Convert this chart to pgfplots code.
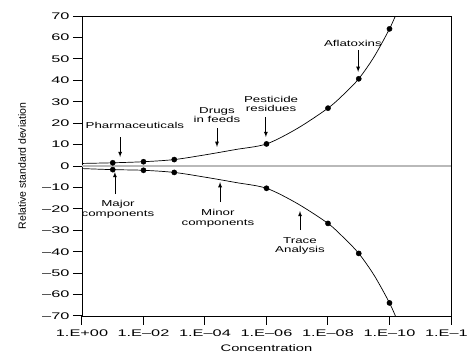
\documentclass[border=0pt]{standalone}
\usepackage{fontspec}
\setmainfont{Liberation Sans}[FakeStretch=1.55]
\newfontfamily\tickfont{Liberation Sans}[FakeStretch=1.7]
\newfontfamily\ylfont{Liberation Sans}
\usepackage{pgfplots}
\pgfplotsset{compat=1.18}
\begin{document}
\begin{tikzpicture}
\useasboundingbox (0,0) rectangle (467pt,354pt);
\begin{axis}[
  at={(82pt,38pt)}, anchor=south west,
  scale only axis, width=369pt, height=300pt,
  xmin=0, xmax=12, ymin=-70, ymax=70,
  xtick={0,2,4,6,8,10,12},
  xticklabels={1.E+00,1.E–02,1.E–04,1.E–06,1.E–08,1.E–10,1.E–12},
  ytick={-70,-60,-50,-40,-30,-20,-10,0,10,20,30,40,50,60,70},
  yticklabels={–70,–60,–50,–40,–30,–20,–10,0,10,20,30,40,50,60,70},
  tick align=outside,
  xtick pos=bottom, ytick pos=left,
  major tick length=9pt,
  xtick style={black, line width=1pt},
  ytick style={black, line width=1pt},
  xticklabel style={font=\tickfont\fontsize{9.6}{10}\selectfont, yshift=-1pt},
  yticklabel style={font=\tickfont\fontsize{9.6}{10}\selectfont},
  axis line style={black, line width=0.9pt},
  xlabel={Concentration},
  ylabel={\ylfont Relative standard deviation},
  every axis x label/.style={at={(axis description cs:0.5,0)}, anchor=center, yshift=-32pt, font=\fontsize{9.5}{10}\selectfont},
  every axis y label/.style={at={(axis description cs:-0.1626,0.5)}, rotate=90, anchor=center, font=\fontsize{10.5}{12}\selectfont},
  clip=true,
]
% zero line
\addplot[gray!55, line width=2.5pt, forget plot] coordinates {(0,0) (12,0)};
% upper curve
\addplot[black, line width=0.7pt, smooth] coordinates {
 (0,1.2) (1,1.5) (2,2.0) (3,3.0) (4,5.2) (5,7.7) (6,10.3) (7,17.5) (8,27) (8.5,33.3) (9,40.7) (9.5,51) (10,64) (10.25,72)};
% lower curve
\addplot[black, line width=0.7pt, smooth] coordinates {
 (0,-1.2) (1,-1.7) (2,-2.0) (3,-3.0) (4,-5.2) (5,-7.7) (6,-10.4) (7,-17.5) (8,-26.8) (8.5,-33.3) (9,-40.8) (9.5,-51) (10,-63.9) (10.25,-72)};
% marks
\addplot[only marks, mark=*, mark size=2.6pt, black] coordinates {
 (1,1.5) (2,2.0) (3,3.0) (6,10.3) (8,27) (9,40.7) (10,64)};
\addplot[only marks, mark=*, mark size=2.6pt, black] coordinates {
 (1,-1.7) (2,-2.0) (3,-3.0) (6,-10.4) (8,-26.8) (9,-40.8) (10,-63.9)};
% annotations
\begin{scope}[font=\fontsize{8.6}{9.5}\selectfont, align=center]
\node at (axis cs:1.72,19.1) {Pharmaceuticals};
\draw[-latex, line width=0.8pt] (axis cs:1.24,13.5) -- (axis cs:1.24,4.2);
\node at (axis cs:1.17,-20.3) {Major\\components};
\draw[-latex, line width=0.8pt] (axis cs:1.07,-13.1) -- (axis cs:1.07,-2.8);
\node at (axis cs:4.39,23.8) {Drugs\\in feeds};
\draw[-latex, line width=0.8pt] (axis cs:4.39,17.7) -- (axis cs:4.39,8.9);
\node at (axis cs:6.15,28.9) {Pesticide\\residues};
\draw[-latex, line width=0.8pt] (axis cs:5.98,22.9) -- (axis cs:5.98,13.5);
\node at (axis cs:8.81,57.4) {Aflatoxins};
\draw[-latex, line width=0.8pt] (axis cs:8.98,54.1) -- (axis cs:8.98,43.9);
\node at (axis cs:4.42,-24.3) {Minor\\components};
\draw[-latex, line width=0.8pt] (axis cs:4.49,-16.8) -- (axis cs:4.49,-7.5);
\node at (axis cs:7.09,-37.3) {Trace\\Analysis};
\draw[-latex, line width=0.8pt] (axis cs:7.09,-29.9) -- (axis cs:7.09,-21);
\end{scope}
\end{axis}
\end{tikzpicture}
\end{document}
